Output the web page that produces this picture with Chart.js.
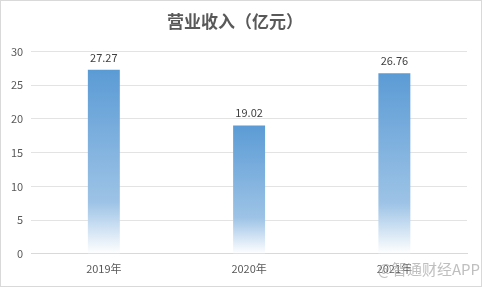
<!DOCTYPE html>
<html>
<head>
<meta charset="utf-8">
<script src="https://cdn.jsdelivr.net/npm/chart.js@4"></script>
<style>
  html, body { margin: 0; padding: 0; background: #fff; }
  .wrap { position: relative; width: 480px; height: 285px; border: 1px solid #d9d9d9; }
</style>
</head>
<body>
<div class="wrap"><canvas id="myChart" width="480" height="285"></canvas></div>
<script>
const labels = ['2019年', '2020年', '2021年'];
const values = [27.27, 19.02, 26.76];
const yTicks = [0, 5, 10, 15, 20, 25, 30];

const font = "'Noto Sans CJK SC', 'Liberation Sans', sans-serif";

// each bar fades from blue at the top to white at its base
function barFill(context) {
  const chart = context.chart;
  const y = chart.scales.y;
  if (!y || !chart.chartArea || context.raw === undefined) return '#5b9bd5';
  const top = y.getPixelForValue(context.raw);
  const bottom = y.getPixelForValue(0);
  if (!isFinite(top) || !isFinite(bottom) || bottom - top < 1) return '#5b9bd5';
  const g = chart.ctx.createLinearGradient(0, top, 0, bottom);
  g.addColorStop(0, '#5b9bd5');
  g.addColorStop(0.72, '#9dc3e6');
  g.addColorStop(1, '#ffffff');
  return g;
}

const valueLabels = {
  id: 'valueLabels',
  afterDatasetsDraw(chart) {
    const ctx = chart.ctx;
    const meta = chart.getDatasetMeta(0);
    ctx.save();
    ctx.font = '11px ' + font;
    ctx.fillStyle = '#404040';
    ctx.textAlign = 'center';
    ctx.textBaseline = 'bottom';
    meta.data.forEach((bar, i) => {
      ctx.fillText(values[i].toFixed(2), bar.x, bar.y - 7);
    });
    ctx.restore();
  }
};

const watermark = {
  id: 'watermark',
  afterDraw(chart) {
    const ctx = chart.ctx;
    ctx.save();
    ctx.font = '15px ' + font;
    ctx.fillStyle = 'rgba(170,170,170,0.75)';
    ctx.textAlign = 'right';
    ctx.textBaseline = 'middle';
    ctx.fillText('@智通财经APP', 479, 268);
    ctx.restore();
  }
};

new Chart(document.getElementById('myChart'), {
  type: 'bar',
  data: {
    labels,
    datasets: [
      {
        data: values,
        backgroundColor: barFill,
        borderWidth: 0,
        categoryPercentage: 1,
        barPercentage: 0.22,
      },
    ],
  },
  options: {
    responsive: false,
    animation: false,
    layout: { padding: { left: 2, right: 14, top: 0, bottom: 11 } },
    plugins: {
      legend: { display: false },
      tooltip: { enabled: false },
      title: {
        display: true,
        text: '营业收入（亿元）',
        color: '#595959',
        font: { family: font, size: 17, weight: 'bold' },
        padding: { top: 10, bottom: 20 },
      },
    },
    scales: {
      x: {
        grid: { display: false },
        border: { display: true, color: '#d9d9d9' },
        ticks: { color: '#595959', font: { family: font, size: 11 }, padding: 0 },
      },
      y: {
        min: 0,
        max: 30,
        afterBuildTicks(axis) {
          axis.ticks = yTicks.map(v => ({ value: v }));
        },
        grid: { color: '#e3e3e3', drawTicks: false },
        border: { display: false },
        ticks: { color: '#595959', font: { family: font, size: 11 }, padding: 8 },
      },
    },
  },
  plugins: [valueLabels, watermark],
});
</script>
</body>
</html>
